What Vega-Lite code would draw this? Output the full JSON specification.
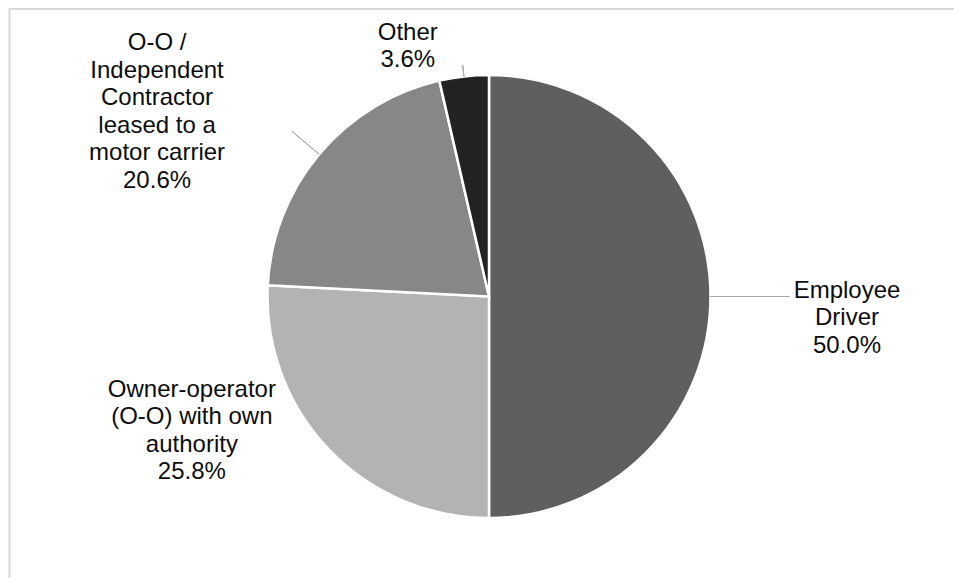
{
  "$schema": "https://vega.github.io/schema/vega-lite/v6.json",
  "width": 946.5,
  "height": 571,
  "padding": {"left": 9.5, "top": 9, "right": -2, "bottom": -2},
  "autosize": {"type": "none"},
  "background": "white",
  "config": {"view": {"stroke": null}},
  "data": {"values": [
    {"category": "Employee Driver", "label": "Employee\nDriver\n50.0%", "share": 50.0, "rank": 1},
    {"category": "Owner-operator (O-O) with own authority", "label": "Owner-operator\n(O-O) with own\nauthority\n25.8%", "share": 25.8, "rank": 2},
    {"category": "O-O / Independent Contractor leased to a motor carrier", "label": "O-O /\nIndependent\nContractor\nleased to a\nmotor carrier\n20.6%", "share": 20.6, "rank": 3},
    {"category": "Other", "label": "Other\n3.6%", "share": 3.6, "rank": 4}
  ]},
  "layer": [
    {
      "data": {"values": [{"frame": "chart area"}]},
      "mark": {"type": "rect", "filled": false, "stroke": "#d9d9d9", "strokeWidth": 2},
      "encoding": {}
    },
    {
      "mark": {"type": "arc", "outerRadius": 221.5, "stroke": "white", "strokeWidth": 2.5, "xOffset": 6.25, "yOffset": 2},
      "encoding": {
        "theta": {"field": "share", "type": "quantitative", "stack": true},
        "order": {"field": "rank", "type": "quantitative"},
        "color": {
          "field": "category", "type": "nominal",
          "scale": {
            "domain": ["Employee Driver", "Owner-operator (O-O) with own authority", "O-O / Independent Contractor leased to a motor carrier", "Other"],
            "range": ["#5f5f5f", "#b3b3b3", "#878787", "#222222"]
          },
          "legend": null
        }
      }
    },
    {
      "mark": {"type": "arc", "innerRadius": 221.5, "outerRadius": {"expr": "[301, 221.5, 257, 233][datum.rank - 1]"}, "padAngle": 3.2, "filled": false, "stroke": "#a6a6a6", "strokeWidth": 1, "xOffset": 6.25, "yOffset": 2},
      "encoding": {
        "theta": {"field": "share", "type": "quantitative", "stack": true},
        "order": {"field": "rank", "type": "quantitative"},
        "detail": {"field": "category", "type": "nominal"}
      }
    },
    {
      "mark": {
        "type": "text", "radius": 330,
        "dx": {"expr": "[28, -58, -79, -44][datum.rank - 1]"},
        "dy": {"expr": "[-6, -134, -41.5, 64][datum.rank - 1]"},
        "xOffset": 6.25, "yOffset": 2,
        "font": "Liberation Sans", "fontSize": 24, "lineBreak": "\n", "lineHeight": 27.5,
        "align": "center", "baseline": "middle", "color": "#0d0d0d"
      },
      "encoding": {
        "theta": {"field": "share", "type": "quantitative", "stack": true},
        "order": {"field": "rank", "type": "quantitative"},
        "text": {"field": "label", "type": "nominal"},
        "detail": {"field": "category", "type": "nominal"}
      }
    }
  ]
}
